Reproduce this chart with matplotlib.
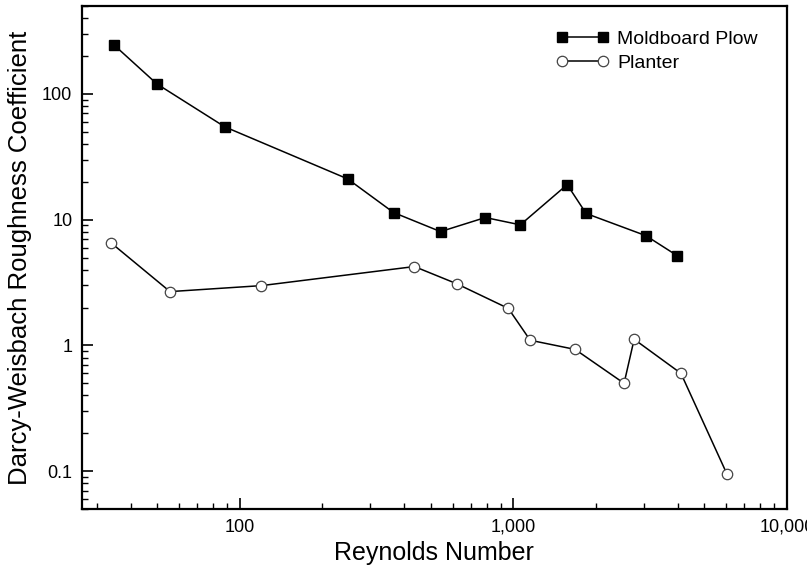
import matplotlib
matplotlib.use("Agg")
import matplotlib.pyplot as plt
from matplotlib.ticker import FixedLocator, LogLocator, NullFormatter

# Data (log-log)
plow_re = [34.7, 49.8, 88.2, 248, 365, 542, 790, 1061, 1574, 1846, 3054, 3971]
plow_f = [245, 120, 54.7, 21.1, 11.4, 8.04, 10.4, 9.1, 19.0, 11.2, 7.46, 5.18]

planter_re = [33.8, 55.6, 120, 435, 620, 959, 1153, 1683, 2541, 2766, 4101, 6040]
planter_f = [6.56, 2.68, 2.99, 4.24, 3.10, 1.97, 1.10, 0.93, 0.50, 1.12, 0.60, 0.095]

x_ticks = [100, 1000, 10000]
x_labels = ["100", "1,000", "10,000"]
y_ticks = [0.1, 1, 10, 100]
y_labels = ["0.1", "1", "10", "100"]

plt.rcParams["font.family"] = ["Liberation Sans", "DejaVu Sans"]

fig = plt.figure(figsize=(8.07, 5.72), dpi=100)
ax = fig.add_axes([0.1016, 0.110, 0.8734, 0.8795])

ax.plot(plow_re, plow_f, color="black", lw=1.1, marker="s", ms=6.5,
        mfc="black", mec="black", label="Moldboard Plow")
ax.plot(planter_re, planter_f, color="black", lw=1.1, marker="o", ms=7.5,
        mfc="white", mec="#444444", mew=0.9, label="Planter")

ax.set_xscale("log")
ax.set_yscale("log")
ax.set_xlim(26.5, 10000)
ax.set_ylim(0.05, 500)

ax.xaxis.set_major_locator(FixedLocator(x_ticks))
ax.set_xticklabels(x_labels)
ax.yaxis.set_major_locator(FixedLocator(y_ticks))
ax.set_yticklabels(y_labels)
ax.xaxis.set_minor_locator(LogLocator(base=10, subs=range(2, 10)))
ax.yaxis.set_minor_locator(LogLocator(base=10, subs=range(2, 10)))
ax.xaxis.set_minor_formatter(NullFormatter())
ax.yaxis.set_minor_formatter(NullFormatter())

ax.tick_params(which="major", direction="in", length=8, width=1.2,
               labelsize=13, top=False, right=False, pad=7)
ax.tick_params(which="minor", direction="in", length=4, width=1.0,
               top=False, right=False)
for s in ax.spines.values():
    s.set_linewidth(1.6)

ax.set_xlabel("Reynolds Number", fontsize=18, labelpad=4)
ax.set_ylabel("Darcy-Weisbach Roughness Coefficient", fontsize=18.5, labelpad=7)

ax.legend(loc="upper left", bbox_to_anchor=(0.673, 0.952), frameon=False,
          numpoints=2, handlelength=2.7, handletextpad=0.42, fontsize=14,
          borderpad=0, borderaxespad=0, labelspacing=0.35)

fig.savefig("out.png", dpi=100)
